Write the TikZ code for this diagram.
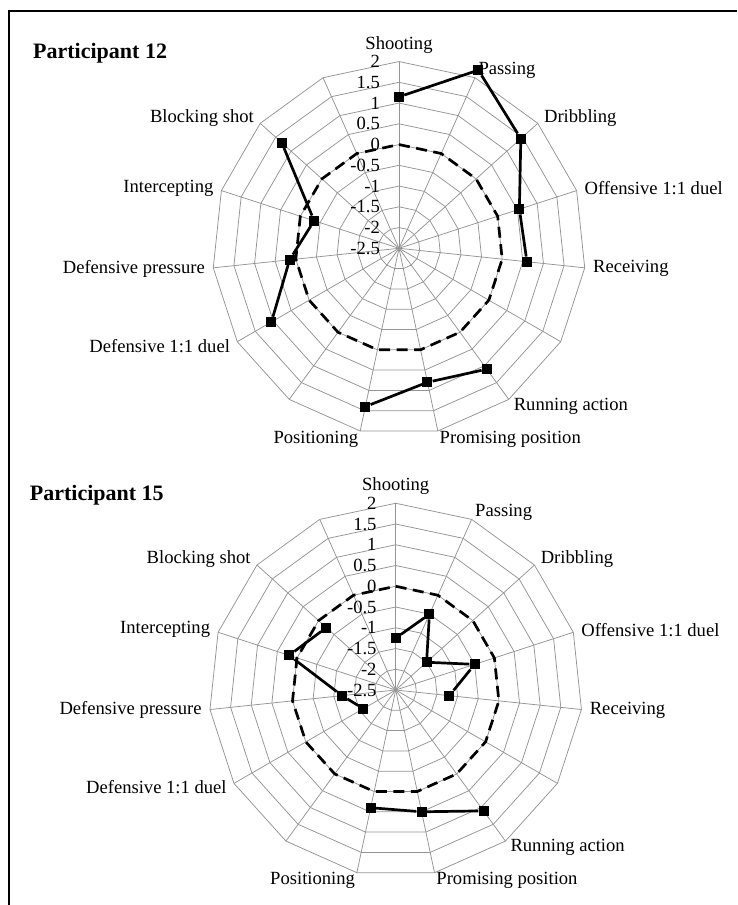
\documentclass[tikz,border=0pt]{standalone}
\usepackage{fontspec}
\setmainfont{Liberation Serif}
\usetikzlibrary{calc}

\begin{document}
\begin{tikzpicture}[x=1pt,y=1pt,
web/.style={draw=black!42,line width=0.75pt},
zeroline/.style={draw=black,line width=2.7pt,dash pattern=on 11pt off 6.5pt},
dataline/.style={draw=black,line width=2.7pt},
sq/.style={rectangle,fill=black,minimum size=10pt,inner sep=0pt},
lbl/.style={inner sep=0pt,font=\fontsize{18.6}{22}\selectfont},
ticklbl/.style={inner sep=0pt,anchor=east,font=\fontsize{18.6}{22}\selectfont},
ttl/.style={inner sep=0pt,anchor=base west,font=\fontsize{22}{26}\selectfont\bfseries},
frame/.style={draw=black,line width=2.6pt}]
\useasboundingbox (0,0) rectangle (737,-905);
\coordinate (fr-bl) at (9,-905);
\coordinate (fr-tl) at (9,-11);
\coordinate (fr-tr) at (737,-11);
\draw[frame] (fr-bl)--(fr-tl)--(fr-tr);
% two charts, same web
\foreach \c/\cx/\cy/\num in {a/399/-248.3/12, b/395.7/-690/15}{
\begin{scope}[shift={(\cx,\cy)}]
 \node[ttl] (\c-title) at (-366,189.5) {Participant \num};
 \foreach \k in {0,...,14} \draw[web] (0,0) -- ({90-24*\k}:186.75);
 \foreach \j in {1,...,9}
  \draw[web] (90:{\j*20.75}) \foreach \k in {1,...,14}{ -- ({90-24*\k}:{\j*20.75})} -- cycle;
 \draw[zeroline] (90:103.75) \foreach \k in {1,...,14}{ -- ({90-24*\k}:103.75)} -- cycle;
 \foreach \t [count=\j from 0] in {-2.5,-2,-1.5,-1,-0.5,0,0.5,1,1.5,2}
  \node[ticklbl] (\c-t\j) at (-19,{\j*20.75}) {\t};
 \foreach \k/\txt/\anc in {0/Shooting/south, 1/Passing/west, 2/Dribbling/west,
   3/Offensive 1:1 duel/west, 4/Receiving/west, 6/Running action/west,
   7/Promising position/west, 8/Positioning/east, 10/Defensive 1:1 duel/east,
   11/Defensive pressure/east, 12/Intercepting/east, 13/Blocking shot/east}
  \node[lbl,anchor=\anc] (\c-l\k) at ({90-24*\k}:195) {\txt};
\end{scope}
}
% Participant 12
\begin{scope}[shift={(399,-248.3)}]
\foreach \k/\v in {0/1.15,1/2.2,2/1.45,3/0.55,4/0.6,6/1.1,7/0.8,8/1.4,10/1.05,11/0.15,12/-0.35,13/1.3}
 \node[sq] (a-\k) at ({90-24*\k}:{(\v+2.5)*41.5}) {};
\end{scope}
\draw[dataline] (a-0)--(a-1)--(a-2)--(a-3)--(a-4);
\draw[dataline] (a-6)--(a-7)--(a-8);
\draw[dataline] (a-10)--(a-11)--(a-12)--(a-13);
% Participant 15
\begin{scope}[shift={(395.7,-690)}]
\foreach \k/\v in {0/-1.25,1/-0.5,2/-1.5,3/-0.5,4/-1.2,6/1.1,7/0.5,8/0.4,10/-1.6,11/-1.2,12/0.2,13/-0.25}
 \node[sq] (b-\k) at ({90-24*\k}:{(\v+2.5)*41.5}) {};
\end{scope}
\draw[dataline] (b-0)--(b-1)--(b-2)--(b-3)--(b-4);
\draw[dataline] (b-6)--(b-7)--(b-8);
\draw[dataline] (b-10)--(b-11)--(b-12)--(b-13);
\end{tikzpicture}
\end{document}
